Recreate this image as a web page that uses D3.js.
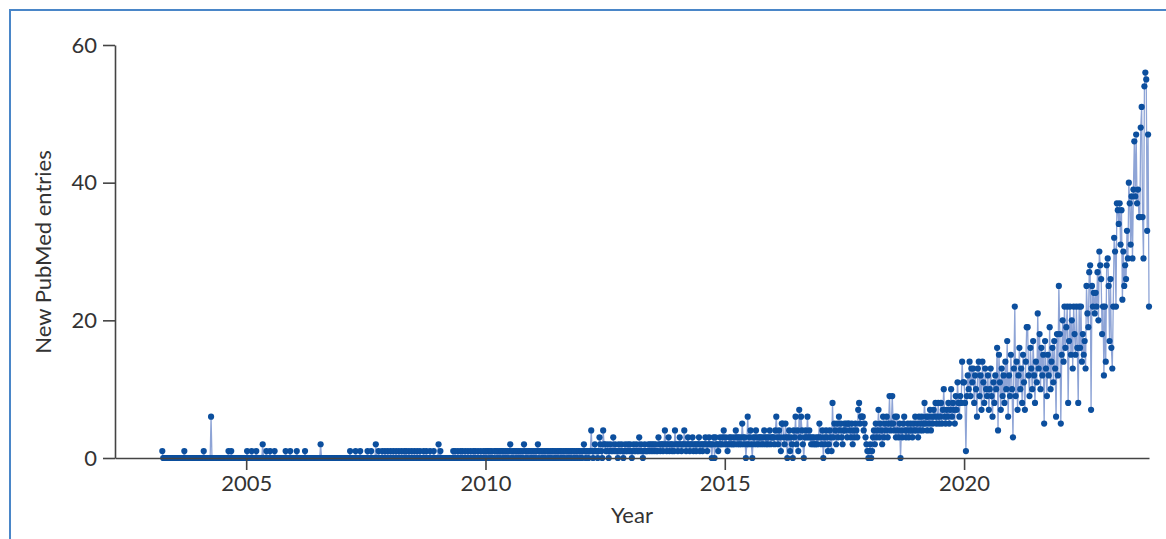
<!DOCTYPE html>
<html>
<head>
<meta charset="utf-8">
<script src="https://cdn.jsdelivr.net/npm/d3@7"></script>
<style>
  body { margin: 0; background: #fff; }
  svg text { font-family: Lato, 'Open Sans', sans-serif; fill: #333; }
</style>
</head>
<body>
<div id="chart"></div>
<script>
// weekly counts of new PubMed entries, one array per year (index = week of year)
const firstWeek2003 = 13;
const w2003 = [1,0,0,0,0,0,0,0,0,0,0,0,0, 0,0,0,0,0,0,0,0,0,0,0,1,0, 0,0,0,0,0,0,0,0,0,0,0,0,0];
const w2004 = [0,0,0,0,0,0,1,0,0,0,0,0,0, 0,6,0,0,0,0,0,0,0,0,0,0,0, 0,0,0,0,0,0,0,1,0,0,1,0,0, 0,0,0,0,0,0,0,0,0,0,0,0,0];
const w2005 = [0,1,0,0,0,0,1,0,0,0,0,1,0, 0,0,0,0,0,2,0,0,0,1,0,0,0, 1,0,0,0,0,1,0,0,0,0,0,0,0, 0,0,0,0,1,0,0,0,0,1,0,0,0];
const w2006 = [0,0,0,1,0,0,0,0,0,0,0,0,1, 0,0,0,0,0,0,0,0,0,0,0,0,0, 0,0,0,2,0,0,0,0,0,0,0,0,0, 0,0,0,0,0,0,0,0,0,0,0,0,0];
const w2007 = [0,0,0,0,0,0,0,0,0,1,0,0,0, 0,0,1,0,0,0,0,1,0,0,0,0,0, 0,0,1,0,0,0,1,0,0,0,0,2,0, 0,1,0,0,0,1,0,0,1,0,0,1,0];
const w2008 = [0,1,0,0,1,0,0,1,0,0,1,0,0, 1,0,0,1,0,1,0,0,1,0,0,1,0, 0,1,0,0,1,0,0,1,0,0,0,1,0, 0,1,0,0,0,1,0,0,0,1,0,0,0];
const w2009 = [0,2,0,1,0,0,0,0,0,0,0,0,0, 0,0,0,0,1,0,1,0,0,1,0,0,1, 0,1,0,0,1,0,0,1,0,0,1,0,0, 1,0,1,0,0,1,0,0,1,0,0,1,0];
const w2010 = [1,0,1,1,0,1,0,1,0,0,1,1,0, 1,0,1,0,1,1,0,1,0,1,0,1,0, 1,2,0,1,0,1,1,0,1,0,1,0,1, 0,1,0,2,1,0,1,0,1,1,0,1,0];
const w2011 = [1,0,1,0,1,2,0,1,1,0,1,0,1, 0,1,1,0,1,0,1,0,1,1,0,1,0, 1,0,1,1,0,1,0,1,0,1,1,0,1, 0,1,0,1,1,0,1,0,1,0,1,1,0];
const w2012 = [1,0,1,2,1,0,1,1,0,1,1,4,1, 0,1,2,1,1,0,1,3,2,1,0,4,2, 2,1,1,2,0,1,2,1,1,3,1,2,1, 1,0,2,1,1,2,1,0,1,2,1,1,2];
const w2013 = [1,2,1,0,1,2,1,1,2,1,1,3,1, 2,1,0,1,2,1,1,1,2,1,2,1,2, 1,2,1,2,1,1,3,2,1,2,2,1,2, 4,2,1,2,3,1,2,2,1,2,1,4,2];
const w2014 = [2,1,2,3,2,1,2,2,4,2,1,2,3, 2,1,2,2,3,1,2,2,1,2,2,3,1, 2,2,1,2,2,3,2,1,2,3,2,2,0, 2,3,0,3,2,2,1,2,3,2,2,3,4];
const w2015 = [2,3,2,1,2,3,2,3,2,2,3,2,4, 3,2,3,2,3,2,5,3,2,3,0,2,6, 2,3,4,2,0,3,2,3,4,2,3,2,3, 3,2,3,2,4,3,2,3,2,3,4,2,3];
const w2016 = [3,3,2,4,6,3,2,4,3,1,5,5,3, 2,5,3,0,3,4,1,3,2,0,4,3,6, 2,4,1,7,3,6,4,2,0,3,4,3,6, 3,4,3,2,3,2,3,2,2,3,2,3,5];
const w2017 = [3,2,4,0,3,2,4,3,1,2,4,3,1, 8,3,5,4,2,5,3,6,4,5,3,2,4, 5,4,5,3,5,5,4,3,5,2,4,3,5, 4,3,7,8,5,6,6,6,4,5,3,2,1];
const w2018 = [0,1,2,0,1,3,4,2,5,3,4,7,3, 5,4,2,6,3,5,4,6,3,5,9,4,5, 9,5,4,6,3,6,4,3,5,0,4,3,5, 6,4,3,4,5,3,4,5,4,3,5,4,6];
const w2019 = [4,5,3,6,4,5,6,4,5,8,5,6,4, 6,5,7,4,6,5,7,6,8,5,6,8,5, 6,8,5,7,10,6,5,7,6,8,5,7,10, 6,8,7,5,9,7,11,8,6,9,8,14,11];
const w2020 = [11,8,1,9,12,10,14,9,13,11,13,8,12, 10,6,13,14,9,12,7,14,11,8,13,10,9, 12,7,10,13,9,6,11,8,12,10,16,4,15, 11,7,13,9,12,8,14,10,17,6,12,9,15];
const w2021 = [10,3,13,22,9,14,7,12,16,10,13,8,15, 11,7,14,19,19,12,9,16,13,10,17,12,8, 14,11,21,13,18,10,16,12,15,5,17,13,9, 15,12,19,10,14,16,11,17,13,6,18,12,25];
const w2022 = [18,5,15,20,14,22,16,19,22,8,17,22,15, 20,13,22,18,15,22,16,8,22,16,22,14,18, 15,17,13,25,21,19,27,28,7,25,22,24,21, 24,22,27,20,30,28,26,18,22,12,22,14,28];
const w2023 = [29,25,17,26,16,13,22,32,30,22,37,36,34, 37,31,36,23,30,25,28,26,33,29,40,37,31, 38,29,39,46,38,47,37,39,35,35,48,51,35, 29,54,56,55,33,47,22];

const yTicks = [0, 20, 40, 60];
const xTickYears = [2005, 2010, 2015, 2020];

const byYear = [
  [2003, w2003], [2004, w2004], [2005, w2005], [2006, w2006], [2007, w2007],
  [2008, w2008], [2009, w2009], [2010, w2010], [2011, w2011], [2012, w2012],
  [2013, w2013], [2014, w2014], [2015, w2015], [2016, w2016], [2017, w2017],
  [2018, w2018], [2019, w2019], [2020, w2020], [2021, w2021], [2022, w2022],
  [2023, w2023]
];

const data = [];
byYear.forEach(([yr, arr]) => {
  const off = yr === 2003 ? firstWeek2003 : 0;
  arr.forEach((v, i) => data.push({ date: new Date(yr, 0, 1 + 7 * (i + off)), value: v }));
});

const width = 1166, height = 539;
const margin = { top: 45, right: 17, bottom: 81, left: 115 };

const svg = d3.select('#chart').append('svg')
  .attr('width', width)
  .attr('height', height)
  .attr('viewBox', [0, 0, width, height]);

// frame of the figure panel
svg.append('rect')
  .attr('x', 10).attr('y', 10)
  .attr('width', width + 40).attr('height', height + 40)
  .attr('fill', 'none')
  .attr('stroke', '#4a86c8')
  .attr('stroke-width', 2);

const x = d3.scaleTime()
  .domain([new Date(2002, 3, 6), data[data.length - 1].date])
  .range([margin.left, width - margin.right]);

const y = d3.scaleLinear()
  .domain([0, 60])
  .range([height - margin.bottom, margin.top]);

const line = d3.line()
  .x(d => x(d.date))
  .y(d => y(d.value));

svg.append('path')
  .datum(data)
  .attr('fill', 'none')
  .attr('stroke', '#8ea4d6')
  .attr('stroke-width', 1.3)
  .attr('d', line);

svg.append('g')
  .selectAll('circle')
  .data(data)
  .join('circle')
  .attr('cx', d => x(d.date))
  .attr('cy', d => y(d.value))
  .attr('r', 3.1)
  .attr('fill', '#0c4f9e');

const xAxis = svg.append('g')
  .attr('transform', `translate(0, ${height - margin.bottom})`)
  .call(d3.axisBottom(x)
    .tickValues(xTickYears.map(yr => new Date(yr, 0, 1)))
    .tickFormat(d3.timeFormat('%Y'))
    .tickSize(12)
    .tickSizeOuter(0)
    .tickPadding(5));

const yAxis = svg.append('g')
  .attr('transform', `translate(${margin.left}, 0)`)
  .call(d3.axisLeft(y)
    .tickValues(yTicks)
    .tickSize(12)
    .tickSizeOuter(0)
    .tickPadding(6));

[xAxis, yAxis].forEach(g => {
  g.selectAll('path, line').attr('stroke', '#444').attr('stroke-width', 1.6);
  g.selectAll('text').style('font-size', '22px');
});

svg.append('text')
  .attr('x', 632)
  .attr('y', 523)
  .attr('text-anchor', 'middle')
  .style('font-size', '22px')
  .text('Year');

svg.append('text')
  .attr('transform', 'translate(51, 252) rotate(-90)')
  .attr('text-anchor', 'middle')
  .style('font-size', '22px')
  .text('New PubMed entries');
</script>
</body>
</html>
